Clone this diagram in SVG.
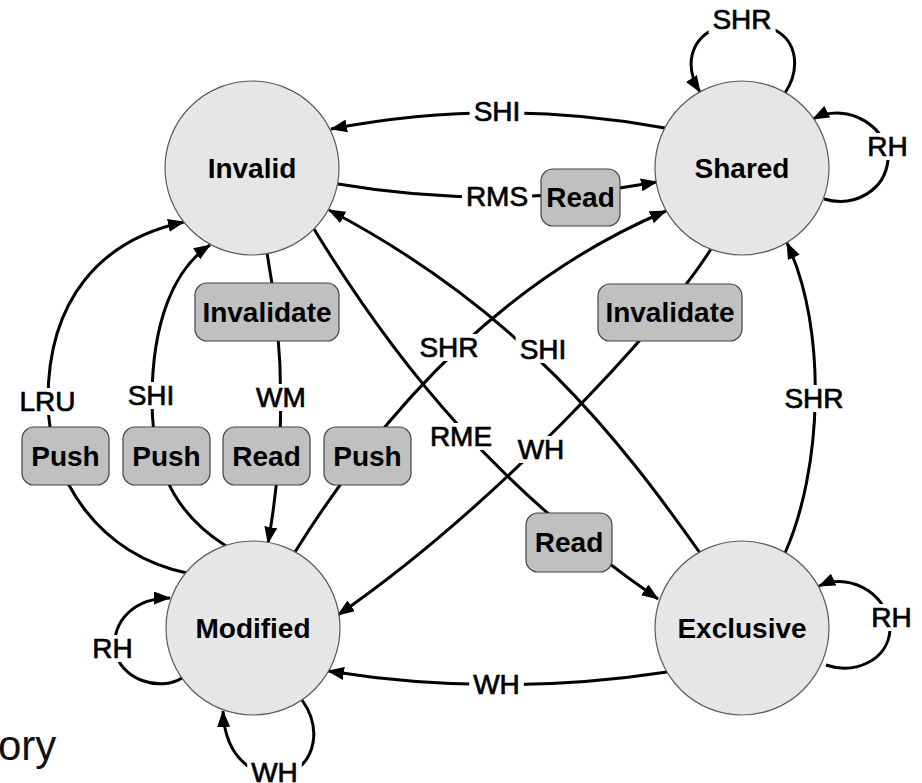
<svg xmlns="http://www.w3.org/2000/svg" width="922" height="783" viewBox="0 0 922 783">
<defs>
<marker id="arr" viewBox="0 0 17 13" refX="16" refY="6.5" markerWidth="17" markerHeight="13" markerUnits="userSpaceOnUse" orient="auto">
<path d="M0,0 L17,6.5 L0,13 z" fill="#000"/>
</marker>
<style>
.state{fill:#e6e6e6;stroke:#5a5a5a;stroke-width:1.2}
.box{fill:#c0c0c0;stroke:#444;stroke-width:1.2}
.sname{font-family:"Liberation Sans",Arial,sans-serif;font-weight:bold;font-size:28px;fill:#000;text-anchor:middle}
.edge{fill:none;stroke:#000;stroke-width:3}
.arr{marker-end:url(#arr)}
.lbg{fill:#fff}
.ltxt{font-family:"Liberation Sans",Arial,sans-serif;font-size:28px;fill:#000;stroke:#000;stroke-width:0.7;text-anchor:middle}
.side{font-family:"Liberation Sans",Arial,sans-serif;font-size:42px;fill:#111}
</style>
</defs>
<rect width="922" height="783" fill="#fff"/>

<g id="connectors">
<!-- Shared -> Invalid (SHI) -->
<path class="edge arr" d="M665,128 Q497,97 331,129"/>
<!-- Invalid -> Shared (RMS / Read) -->
<path class="edge arr" d="M338,184 Q497,211 657,182"/>
<!-- Invalid -> Modified (Invalidate / WM / Read) -->
<path class="edge arr" d="M267,253 Q294,398 268,543"/>
<!-- Modified -> Invalid (LRU / Push) -->
<path class="edge arr" d="M187,573 C100,555 48,480 48,400 C48,300 100,240 184,222"/>
<!-- Modified -> Invalid (SHI / Push) -->
<path class="edge arr" d="M226,546 C185,520 152,480 152,400 C152,320 175,268 210,245"/>
<!-- Modified -> Shared (SHR / Push) -->
<path class="edge arr" d="M295,552 Q451,302 666,211"/>
<!-- Exclusive -> Invalid (SHI) -->
<path class="edge arr" d="M700,553 C620,440 520,310 329,210"/>
<!-- Invalid -> Exclusive (RME / Read) -->
<path class="edge arr" d="M314,229 C400,370 500,490 658,599"/>
<!-- Shared -> Modified (Invalidate / WH) -->
<path class="edge arr" d="M711,249 C660,330 490,510 338,615"/>
<!-- Exclusive -> Shared (SHR) -->
<path class="edge arr" d="M785,553 C822,470 828,330 787,243"/>
<!-- Exclusive -> Modified (WH) -->
<path class="edge arr" d="M667,672 Q497,698 328,671"/>
<!-- Shared self loop SHR -->
<path class="edge arr" d="M785,93 C800,70 798,42 775,30 Q742,14 710,31 C688,45 686,70 700,92"/>
<!-- Shared self loop RH -->
<path class="edge arr" d="M824,199 C855,208 885,190 888,160 C890,130 850,100 813,119"/>
<!-- Modified self loop RH -->
<path class="edge arr" d="M182,678 C160,692 120,680 115,650 C112,620 135,598 170,598"/>
<!-- Modified self loop WH -->
<path class="edge arr" d="M302,700 C322,728 315,760 292,772 C265,784 225,765 223,711"/>
<!-- Exclusive self loop RH -->
<path class="edge arr" d="M826,665 C855,675 888,660 890,630 C891,600 855,570 819,586"/>

<g id="edge-labels">
<rect class="lbg" x="469.6" y="98" width="54.7" height="27"/><text class="ltxt" x="497" y="121">SHI</text>
<rect class="lbg" x="461.9" y="183" width="70.2" height="27"/><text class="ltxt" x="497" y="206">RMS</text>
<rect class="lbg" x="15.5" y="388" width="64" height="27"/><text class="ltxt" x="47.5" y="411">LRU</text>
<rect class="lbg" x="123.6" y="382" width="54.7" height="27"/><text class="ltxt" x="151" y="405">SHI</text>
<rect class="lbg" x="252" y="384" width="57.8" height="27"/><text class="ltxt" x="281" y="407">WM</text>
<rect class="lbg" x="415.5" y="334" width="67.1" height="27"/><text class="ltxt" x="449" y="357">SHR</text>
<rect class="lbg" x="515.6" y="336" width="54.7" height="27"/><text class="ltxt" x="543" y="359">SHI</text>
<rect class="lbg" x="425.9" y="423" width="70.2" height="27"/><text class="ltxt" x="461" y="446">RME</text>
<rect class="lbg" x="513.7" y="436" width="54.6" height="27"/><text class="ltxt" x="541" y="459">WH</text>
<rect class="lbg" x="780.5" y="385" width="67.1" height="27"/><text class="ltxt" x="814" y="408">SHR</text>
<rect class="lbg" x="708.5" y="6" width="67.1" height="27"/><text class="ltxt" x="742" y="29">SHR</text>
<rect class="lbg" x="863.3" y="133" width="48.4" height="27"/><text class="ltxt" x="887.5" y="156">RH</text>
<rect class="lbg" x="88.3" y="635" width="48.4" height="27"/><text class="ltxt" x="112.5" y="658">RH</text>
<rect class="lbg" x="247.2" y="759" width="54.6" height="27"/><text class="ltxt" x="274.5" y="782">WH</text>
<rect class="lbg" x="469.2" y="671" width="54.6" height="27"/><text class="ltxt" x="496.5" y="694">WH</text>
<rect class="lbg" x="867.3" y="604" width="48.4" height="27"/><text class="ltxt" x="891.5" y="627">RH</text>
</g>
</g>

<g id="invalid"><circle class="state" cx="252" cy="168" r="87"/><text class="sname" x="252" y="178">Invalid</text></g>
<g id="shared"><circle class="state" cx="742" cy="168" r="87"/><text class="sname" x="742" y="178">Shared</text></g>
<g id="modified"><circle class="state" cx="253" cy="628" r="87"/><text class="sname" x="253" y="638">Modified</text></g>
<g id="exclusive"><circle class="state" cx="742" cy="628" r="87"/><text class="sname" x="742" y="638">Exclusive</text></g>

<g id="read-rms"><rect class="box" x="541" y="169" width="79" height="57" rx="12"/><text class="sname" x="580.5" y="207">Read</text></g>
<g id="invalidate-left"><rect class="box" x="195" y="283" width="144" height="58" rx="12"/><text class="sname" x="267" y="322">Invalidate</text></g>
<g id="push-lru"><rect class="box" x="22" y="427" width="87" height="58" rx="12"/><text class="sname" x="65.5" y="466">Push</text></g>
<g id="push-shi"><rect class="box" x="123" y="427" width="87" height="58" rx="12"/><text class="sname" x="166.5" y="466">Push</text></g>
<g id="read-wm"><rect class="box" x="223" y="427" width="87" height="58" rx="12"/><text class="sname" x="266.5" y="466">Read</text></g>
<g id="push-shr"><rect class="box" x="324" y="427" width="87" height="58" rx="12"/><text class="sname" x="367.5" y="466">Push</text></g>
<g id="invalidate-right"><rect class="box" x="598" y="284" width="144" height="57" rx="12"/><text class="sname" x="670" y="322">Invalidate</text></g>
<g id="read-rme"><rect class="box" x="526" y="513" width="86" height="59" rx="12"/><text class="sname" x="569" y="552">Read</text></g>

<text class="side" x="-2" y="760">ory</text>
</svg>
